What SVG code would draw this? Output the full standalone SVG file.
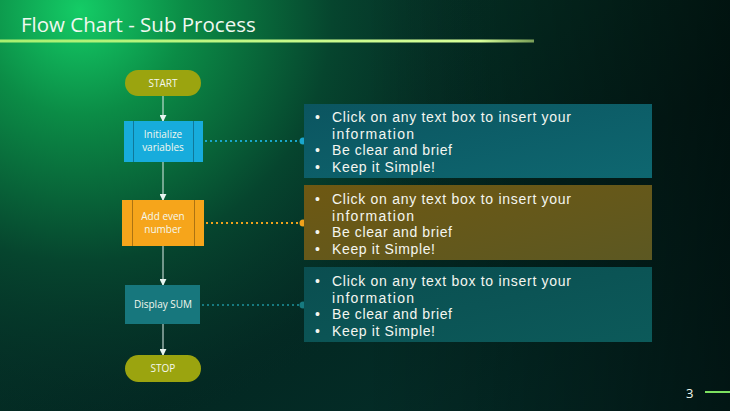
<svg xmlns="http://www.w3.org/2000/svg" width="730" height="411" viewBox="0 0 730 411">
<defs>
<radialGradient id="bgGlow" cx="80" cy="10" r="420" gradientUnits="userSpaceOnUse">
<stop offset="0" stop-color="#14cc66"/>
<stop offset="0.25" stop-color="#0b8c46"/>
<stop offset="0.6" stop-color="#06452e"/>
<stop offset="1" stop-color="#052a26" stop-opacity="0"/>
</radialGradient>
<linearGradient id="bgBase" x1="0" y1="0" x2="1" y2="1">
<stop offset="0" stop-color="#06402c"/>
<stop offset="0.6" stop-color="#032822"/>
<stop offset="1" stop-color="#04302c"/>
</linearGradient>
<linearGradient id="darkRight" x1="0" y1="0" x2="1" y2="0">
<stop offset="0.5" stop-color="#000" stop-opacity="0"/>
<stop offset="1" stop-color="#000" stop-opacity="0.55"/>
</linearGradient>
<linearGradient id="titleLine" x1="0" y1="0" x2="1" y2="0">
<stop offset="0" stop-color="#a8f070"/>
<stop offset="0.9" stop-color="#d8ff9a"/>
<stop offset="1" stop-color="#c8f080" stop-opacity="0.6"/>
</linearGradient>
<linearGradient id="teal1" x1="0" y1="0" x2="1" y2="1">
<stop offset="0" stop-color="#0b5560"/>
<stop offset="1" stop-color="#0e6770"/>
</linearGradient>
<linearGradient id="brown" x1="0" y1="0" x2="1" y2="1">
<stop offset="0" stop-color="#6e5812"/>
<stop offset="1" stop-color="#5c5822"/>
</linearGradient>
<linearGradient id="teal3" x1="0" y1="0" x2="1" y2="1">
<stop offset="0" stop-color="#0a4e50"/>
<stop offset="1" stop-color="#0c5a5a"/>
</linearGradient>
<marker id="arr" viewBox="0 0 8 8" refX="7" refY="4" markerWidth="7" markerHeight="7" markerUnits="userSpaceOnUse" orient="auto">
<path d="M0,0 L8,4 L0,8 Z" fill="#e8f4f0"/>
</marker>
<style>
.title{font-family:"Open Sans","Liberation Sans",sans-serif;font-size:20.5px;fill:#f0f8f0}
.lbl{font-family:"Open Sans","Liberation Sans",sans-serif;font-size:10px;fill:#f4f8ee;text-anchor:middle}
.bul{font-family:"Liberation Sans",sans-serif;font-size:14px;fill:#f4f6f0}
.flow{stroke:#dfeeea;stroke-width:1;fill:none}
.dot{stroke-width:2.2;stroke-dasharray:2 3;fill:none}
.divl{stroke:#000;stroke-opacity:0.3;stroke-width:1}
</style>
</defs>
<rect width="730" height="411" fill="url(#bgBase)"/>
<rect width="730" height="411" fill="url(#bgGlow)"/>
<rect width="730" height="411" fill="url(#darkRight)"/>
<text class="title" x="21" y="32">Flow Chart - Sub Process</text>
<rect x="0" y="39.5" width="534" height="3" fill="url(#titleLine)"/>
<g id="connectors">
<line class="flow" x1="163" y1="96" x2="163" y2="121" marker-end="url(#arr)"/>
<line class="flow" x1="163" y1="162" x2="163" y2="200" marker-end="url(#arr)"/>
<line class="flow" x1="163" y1="246" x2="163" y2="285" marker-end="url(#arr)"/>
<line class="flow" x1="163" y1="324" x2="163" y2="355" marker-end="url(#arr)"/>
<line class="dot" x1="205" y1="141" x2="301" y2="141" stroke="#1aa6cc"/>
<circle cx="303" cy="141" r="3.5" fill="#1aa6cc"/>
<line class="dot" x1="206" y1="223" x2="301" y2="223" stroke="#f0a21c"/>
<circle cx="303" cy="223" r="3.5" fill="#f0a21c"/>
<line class="dot" x1="202" y1="305" x2="301" y2="305" stroke="#167a80"/>
<circle cx="303" cy="305" r="3.5" fill="#167a80"/>
</g>
<g id="start">
<rect x="125" y="70" width="76" height="26" rx="13" fill="#9ba40f"/>
<text class="lbl" x="163" y="87">START</text>
</g>
<g id="init">
<rect x="124" y="121" width="79" height="41" fill="#17acdc"/>
<line class="divl" x1="133.5" y1="121" x2="133.5" y2="162"/>
<line class="divl" x1="193.5" y1="121" x2="193.5" y2="162"/>
<text class="lbl" x="163" y="138">Initialize</text>
<text class="lbl" x="163" y="151">variables</text>
</g>
<g id="addeven">
<rect x="122" y="200" width="82" height="46" fill="#f6a51b"/>
<line class="divl" x1="132.5" y1="200" x2="132.5" y2="246"/>
<line class="divl" x1="194.5" y1="200" x2="194.5" y2="246"/>
<text class="lbl" x="163" y="220">Add even</text>
<text class="lbl" x="163" y="233">number</text>
</g>
<g id="display">
<rect x="125" y="285" width="75" height="39" fill="#17777d"/>
<text class="lbl" x="163" y="308">Display SUM</text>
</g>
<g id="stop">
<rect x="125" y="355" width="76" height="27" rx="13.5" fill="#9ba40f"/>
<text class="lbl" x="163" y="372">STOP</text>
</g>
<g id="box1">
<rect x="304" y="104" width="348" height="74" fill="url(#teal1)"/>
<text class="bul" x="315" y="122">•</text><text class="bul" x="332" y="122" textLength="239" lengthAdjust="spacing">Click on any text box to insert your</text>
<text class="bul" x="332" y="138.5" textLength="82" lengthAdjust="spacing">information</text>
<text class="bul" x="315" y="155">•</text><text class="bul" x="332" y="155" textLength="120" lengthAdjust="spacing">Be clear and brief</text>
<text class="bul" x="315" y="171.5">•</text><text class="bul" x="332" y="171.5" textLength="103" lengthAdjust="spacing">Keep it Simple!</text>
</g>
<g id="box2">
<rect x="304" y="185" width="348" height="75" fill="url(#brown)"/>
<text class="bul" x="315" y="204">•</text><text class="bul" x="332" y="204" textLength="239" lengthAdjust="spacing">Click on any text box to insert your</text>
<text class="bul" x="332" y="220.5" textLength="82" lengthAdjust="spacing">information</text>
<text class="bul" x="315" y="237">•</text><text class="bul" x="332" y="237" textLength="120" lengthAdjust="spacing">Be clear and brief</text>
<text class="bul" x="315" y="253.5">•</text><text class="bul" x="332" y="253.5" textLength="103" lengthAdjust="spacing">Keep it Simple!</text>
</g>
<g id="box3">
<rect x="304" y="267" width="348" height="75" fill="url(#teal3)"/>
<text class="bul" x="315" y="286">•</text><text class="bul" x="332" y="286" textLength="239" lengthAdjust="spacing">Click on any text box to insert your</text>
<text class="bul" x="332" y="302.5" textLength="82" lengthAdjust="spacing">information</text>
<text class="bul" x="315" y="319">•</text><text class="bul" x="332" y="319" textLength="120" lengthAdjust="spacing">Be clear and brief</text>
<text class="bul" x="315" y="335.5">•</text><text class="bul" x="332" y="335.5" textLength="103" lengthAdjust="spacing">Keep it Simple!</text>
</g>
<text class="title" x="686" y="398" style="font-size:13px">3</text>
<rect x="705" y="391" width="25" height="2" fill="#7ce060"/>
</svg>
